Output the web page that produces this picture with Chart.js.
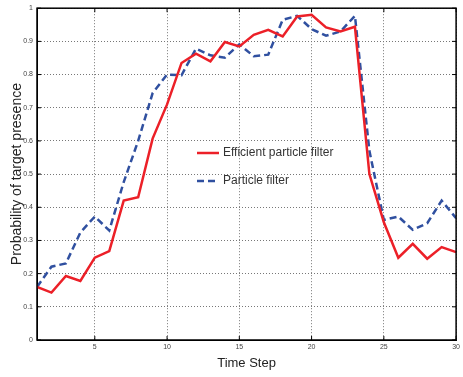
<!DOCTYPE html>
<html>
<head>
<meta charset="utf-8">
<script src="https://cdn.jsdelivr.net/npm/chart.js@4.4.0/dist/chart.umd.min.js"></script>
<style>
  html, body { margin: 0; padding: 0; background: #fff; }
  #wrap { width: 463px; height: 377px; }
</style>
</head>
<body>
<div id="wrap"><canvas id="myChart" width="463" height="377"></canvas></div>
<script>
const timeSteps = [1, 2, 3, 4, 5, 6, 7, 8, 9, 10, 11, 12, 13, 14, 15, 16, 17, 18, 19, 20, 21, 22, 23, 24, 25, 26, 27, 28, 29, 30];
const efficientPF = [0.16, 0.143, 0.193, 0.178, 0.248, 0.268, 0.42, 0.43, 0.607, 0.71, 0.835, 0.863, 0.84, 0.898, 0.885, 0.92, 0.935, 0.915, 0.975, 0.98, 0.942, 0.93, 0.944, 0.5, 0.355, 0.248, 0.29, 0.245, 0.28, 0.265];
const particlePF = [0.16, 0.221, 0.231, 0.324, 0.372, 0.33, 0.476, 0.6, 0.744, 0.8, 0.798, 0.878, 0.858, 0.851, 0.891, 0.855, 0.86, 0.965, 0.977, 0.937, 0.917, 0.93, 0.977, 0.57, 0.362, 0.372, 0.332, 0.352, 0.42, 0.367];
const xTicks = [5, 10, 15, 20, 25, 30];

const fontName = "'Liberation Sans', Arial, sans-serif";

// box round the plot, inner tick marks and the legend inside the plot
const frame = {
    id: "frame",
    afterDraw(chart) {
        const { ctx, chartArea: a, scales } = chart;
        ctx.save();
        ctx.strokeStyle = "#000";
        ctx.lineWidth = 1;
        ctx.beginPath();
        xTicks.forEach(v => {
            const px = scales.x.getPixelForValue(v);
            ctx.moveTo(px, a.bottom); ctx.lineTo(px, a.bottom - 4);
            ctx.moveTo(px, a.top); ctx.lineTo(px, a.top + 4);
        });
        scales.y.ticks.forEach(t => {
            const py = scales.y.getPixelForValue(t.value);
            ctx.moveTo(a.left, py); ctx.lineTo(a.left + 4, py);
            ctx.moveTo(a.right, py); ctx.lineTo(a.right - 4, py);
        });
        ctx.stroke();
        ctx.lineWidth = 1.5;
        ctx.strokeRect(a.left, a.top, a.right - a.left, a.bottom - a.top);

        // legend
        const rows = [153, 181];
        ctx.font = "12px " + fontName;
        ctx.textBaseline = "middle";
        chart.data.datasets.forEach((ds, i) => {
            ctx.strokeStyle = ds.borderColor;
            ctx.lineWidth = ds.borderWidth;
            ctx.setLineDash(ds.borderDash || []);
            ctx.beginPath();
            ctx.moveTo(197, rows[i]);
            ctx.lineTo(219, rows[i]);
            ctx.stroke();
            ctx.setLineDash([]);
            ctx.fillStyle = "#333";
            ctx.fillText(ds.label, 223, rows[i]);
        });
        ctx.restore();
    }
};

const config = {
    type: "line",
    data: {
        labels: timeSteps,
        datasets: [
            {
                label: "Efficient particle filter",
                data: efficientPF,
                borderColor: "rgb(236, 32, 40)",
                borderWidth: 2.5,
                pointRadius: 0,
                tension: 0,
            },
            {
                label: "Particle filter",
                data: particlePF,
                borderColor: "rgb(48, 80, 160)",
                borderWidth: 2.5,
                borderDash: [7, 4],
                pointRadius: 0,
                tension: 0,
            },
        ],
    },
    options: {
        responsive: false,
        animation: false,
        layout: { padding: { top: 4, right: 3, left: 0, bottom: 0 } },
        plugins: { legend: { display: false }, tooltip: { enabled: false } },
        scales: {
            x: {
                type: "linear",
                min: 1,
                max: 30,
                afterBuildTicks: s => { s.ticks = xTicks.map(v => ({ value: v })); },
                afterFit: s => { s.height = 37; },
                grid: { color: "#777", drawTicks: false },
                border: { color: "#000", dash: [1, 2] },
                ticks: { padding: 3, color: "#444", font: { family: fontName, size: 7 } },
                title: {
                    display: true,
                    text: "Time Step",
                    color: "#222",
                    font: { family: fontName, size: 13 },
                    padding: { top: 0, bottom: 6 },
                },
            },
            y: {
                min: 0,
                max: 1,
                afterFit: s => { s.width = 37; },
                grid: { color: "#777", drawTicks: false },
                border: { color: "#000", dash: [1, 2] },
                ticks: {
                    stepSize: 0.1,
                    padding: 4,
                    color: "#444",
                    font: { family: fontName, size: 7 },
                    callback: v => String(+v.toFixed(1)),
                },
                title: {
                    display: true,
                    text: "Probability of target presence",
                    color: "#222",
                    font: { family: fontName, size: 14 },
                    padding: { top: 9, bottom: 0 },
                },
            },
        },
    },
    plugins: [frame],
};

const myChart = new Chart(document.getElementById("myChart"), config);
</script>
</body>
</html>
